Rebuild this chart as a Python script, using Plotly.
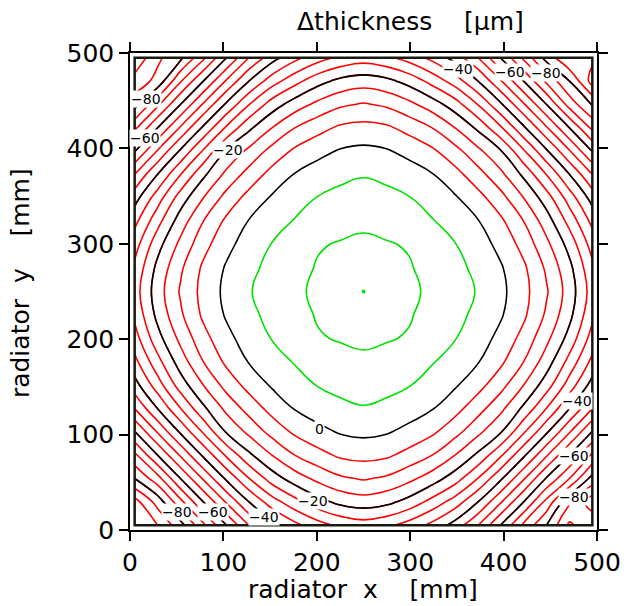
import plotly.graph_objects as go

# grid coordinates (mm)
x_mm = [5, 29.5, 54, 78.5, 103, 127.5, 152, 176.5, 201, 225.5, 250,
        274.5, 299, 323.5, 348, 372.5, 397, 421.5, 446, 470.5, 495]
y_mm = [5, 29.5, 54, 78.5, 103, 127.5, 152, 176.5, 201, 225.5, 250,
        274.5, 299, 323.5, 348, 372.5, 397, 421.5, 446, 470.5, 495]

# delta thickness [um], one list per grid row (bottom to top)
row_y005 = [-91, -90, -82, -71.1, -60.2, -49.9, -42.0, -36.4, -32.1, -28.9, -27.3, -28.9, -32.1, -36.4, -42.0, -49.9, -60.2, -71.1, -80, -91, -86]
row_y030 = [-92, -83, -71.5, -60.0, -49.5, -39.9, -32.3, -26.7, -21.8, -18.6, -17.3, -18.6, -21.8, -26.7, -32.3, -39.9, -49.5, -60.0, -71.5, -84, -93]
row_y054 = [-80, -72, -60.0, -49.4, -39.2, -30.1, -22.6, -17.5, -13.7, -10.8, -9.5, -10.8, -13.7, -17.5, -22.6, -30.1, -39.2, -49.4, -60.5, -70, -82]
row_y079 = [-71.1, -60.0, -49.4, -39.1, -29.3, -21.0, -15.0, -10.0, -6.7, -4.1, -3.4, -4.1, -6.7, -10.0, -15.0, -21.0, -29.3, -39.1, -49.4, -60.0, -71.1]
row_y103 = [-60.2, -49.5, -39.2, -29.3, -19.6, -13.7, -8.2, -4.0, -1.4, 0.5, 1.2, 0.5, -1.4, -4.0, -8.2, -13.7, -19.6, -29.3, -39.2, -49.5, -60.2]
row_y128 = [-49.9, -39.9, -30.1, -21.0, -13.7, -8.0, -3.2, 0.3, 2.3, 3.9, 4.7, 3.9, 2.3, 0.3, -3.2, -8.0, -13.7, -21.0, -30.1, -39.9, -49.9]
row_y152 = [-42.0, -32.3, -22.6, -15.0, -8.2, -3.2, 0.6, 3.2, 5.2, 6.3, 6.9, 6.3, 5.2, 3.2, 0.6, -3.2, -8.2, -15.0, -22.6, -32.3, -42.0]
row_y177 = [-36.4, -26.7, -17.5, -10.0, -4.0, 0.3, 3.2, 5.3, 7.1, 8.3, 9.0, 8.3, 7.1, 5.3, 3.2, 0.3, -4.0, -10.0, -17.5, -26.7, -36.4]
row_y201 = [-32.1, -21.8, -13.7, -6.7, -1.4, 2.3, 5.2, 7.1, 9.6, 10.4, 11.0, 10.4, 9.6, 7.1, 5.2, 2.3, -1.4, -6.7, -13.7, -21.8, -32.1]
row_y226 = [-28.9, -18.6, -10.8, -4.1, 0.5, 3.9, 6.3, 8.3, 10.4, 12.0, 13.1, 12.0, 10.4, 8.3, 6.3, 3.9, 0.5, -4.1, -10.8, -18.6, -28.9]
row_y250 = [-27.3, -17.3, -9.5, -3.4, 1.2, 4.7, 6.9, 9.0, 11.0, 13.1, 15.1, 13.1, 11.0, 9.0, 6.9, 4.7, 1.2, -3.4, -9.5, -17.3, -27.3]
row_y275 = [-28.9, -18.6, -10.8, -4.1, 0.5, 3.9, 6.3, 8.3, 10.4, 12.0, 13.1, 12.0, 10.4, 8.3, 6.3, 3.9, 0.5, -4.1, -10.8, -18.6, -28.9]
row_y299 = [-32.1, -21.8, -13.7, -6.7, -1.4, 2.3, 5.2, 7.1, 9.6, 10.4, 11.0, 10.4, 9.6, 7.1, 5.2, 2.3, -1.4, -6.7, -13.7, -21.8, -32.1]
row_y324 = [-36.4, -26.7, -17.5, -10.0, -4.0, 0.3, 3.2, 5.3, 7.1, 8.3, 9.0, 8.3, 7.1, 5.3, 3.2, 0.3, -4.0, -10.0, -17.5, -26.7, -36.4]
row_y348 = [-42.0, -32.3, -22.6, -15.0, -8.2, -3.2, 0.6, 3.2, 5.2, 6.3, 6.9, 6.3, 5.2, 3.2, 0.6, -3.2, -8.2, -15.0, -22.6, -32.3, -42.0]
row_y373 = [-49.9, -39.9, -30.1, -21.0, -13.7, -8.0, -3.2, 0.3, 2.3, 3.9, 4.7, 3.9, 2.3, 0.3, -3.2, -8.0, -13.7, -21.0, -30.1, -39.9, -49.9]
row_y397 = [-60.2, -49.5, -39.2, -29.3, -19.6, -13.7, -8.2, -4.0, -1.4, 0.5, 1.2, 0.5, -1.4, -4.0, -8.2, -13.7, -19.6, -29.3, -39.2, -49.5, -60.2]
row_y422 = [-71.1, -60.0, -49.4, -39.1, -29.3, -21.0, -15.0, -10.0, -6.7, -4.1, -3.4, -4.1, -6.7, -10.0, -15.0, -21.0, -29.3, -39.1, -49.4, -60.0, -71.1]
row_y446 = [-82, -71, -60.0, -49.4, -39.2, -30.1, -22.6, -17.5, -13.7, -10.8, -9.5, -10.8, -13.7, -17.5, -22.6, -30.1, -39.2, -49.4, -60, -72, -80.5]
row_y471 = [-88, -83.5, -70.5, -60.0, -49.5, -39.9, -32.3, -26.7, -21.8, -18.6, -17.3, -18.6, -21.8, -26.7, -32.3, -39.9, -49.5, -60.0, -71, -80, -92]
row_y495 = [-94, -86, -81, -71.1, -60.2, -49.9, -42.0, -36.4, -32.1, -28.9, -27.3, -28.9, -32.1, -36.4, -42.0, -49.9, -60.2, -71.1, -82, -90, -89]

# contour labels: text, x, y (mm)
label_text = ["\u221280", "\u221260", "\u221220", "\u221240", "\u221260", "\u221280",
              "\u221280", "\u221260", "\u221240", "0", "\u221220",
              "\u221240", "\u221260", "\u221280"]
label_x = [16.9, 16.4, 104.7, 351.5, 406.4, 445.6, 50.2, 88.8, 143.8, 202.4, 196.1, 478.3, 475.2, 475.2]
label_y = [451.8, 410.4, 398.8, 483.2, 479.6, 479.0, 18.9, 18.9, 13.6, 105.9, 30.4, 135.7, 77.6, 34.1]

z = [row_y005, row_y030, row_y054, row_y079, row_y103, row_y128, row_y152,
     row_y177, row_y201, row_y226, row_y250, row_y275, row_y299, row_y324,
     row_y348, row_y373, row_y397, row_y422, row_y446, row_y471, row_y495]

fig = go.Figure()

def add_levels(start, end, size, color):
    fig.add_trace(go.Contour(
        x=x_mm, y=y_mm, z=z,
        contours=dict(start=start, end=end, size=size, coloring="none"),
        line=dict(color=color, width=1.6, smoothing=1.3),
        showscale=False, hoverinfo="skip",
    ))

add_levels(-95, -5, 5, "#ff0000")
add_levels(-80, 0, 20, "#000000")
add_levels(5, 15, 5, "#00e000")

FONT = "DejaVu Sans"

for t, lx, ly in zip(label_text, label_x, label_y):
    fig.add_annotation(x=lx, y=ly, text=t, showarrow=False,
                       xanchor="center", yanchor="middle",
                       font=dict(family=FONT, size=14, color="black"),
                       bgcolor="white", borderpad=0)

# data boundary frame
fig.add_shape(type="rect", x0=x_mm[0], x1=x_mm[-1], y0=y_mm[0], y1=y_mm[-1],
              line=dict(color="#1a1a10", width=2.5), layer="above")

axis_common = dict(
    range=[0, 500], tickvals=[0, 100, 200, 300, 400, 500],
    showline=True, linecolor="black", linewidth=1.5, mirror="ticks",
    ticks="outside", ticklen=9, tickwidth=1.5, tickcolor="black",
    showgrid=False, zeroline=False,
    tickfont=dict(family=FONT, size=25, color="black"),
)

fig.update_layout(
    width=633, height=606,
    margin=dict(l=130, r=30, t=53, b=76),
    paper_bgcolor="white", plot_bgcolor="white",
    xaxis=dict(**axis_common),
    yaxis=dict(**axis_common),
    showlegend=False,
)

TITLE_FONT = dict(family=FONT, size=25, color="black")
fig.add_annotation(xref="paper", yref="paper", x=0.499, y=-0.158,
                   xanchor="center", yanchor="bottom", borderpad=0,
                   text="radiator\u00a0\u00a0x\u00a0\u00a0\u00a0\u00a0[mm]", showarrow=False,
                   font=TITLE_FONT)
fig.add_annotation(xref="paper", yref="paper", x=-0.233, y=0.518,
                   xanchor="center", yanchor="middle", borderpad=0,
                   text="radiator\u00a0\u00a0y\u00a0\u00a0\u00a0\u00a0[mm]", showarrow=False,
                   textangle=-90, font=TITLE_FONT)
fig.add_annotation(xref="paper", yref="paper", x=0.600, y=1.065,
                   xanchor="center", yanchor="middle", borderpad=0,
                   text="\u0394thickness\u00a0\u00a0\u00a0\u00a0[\u03bcm]", showarrow=False,
                   font=TITLE_FONT)

fig.write_html("out.html")
